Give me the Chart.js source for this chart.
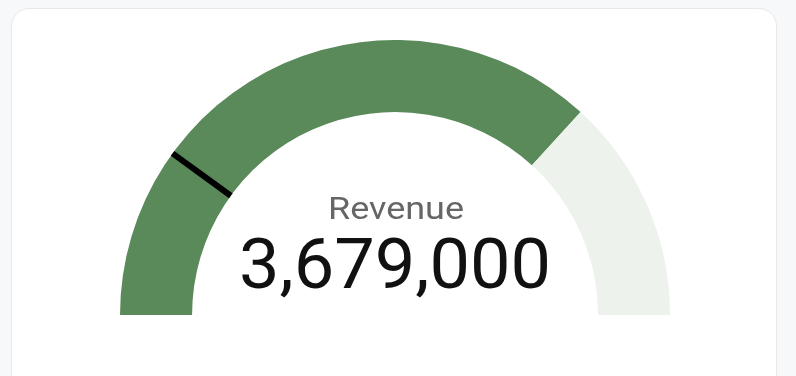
<!DOCTYPE html>
<html>
<head>
<meta charset="utf-8">
<script src="https://cdn.jsdelivr.net/npm/chart.js@4/dist/chart.umd.min.js"></script>
<style>
  html, body { margin: 0; padding: 0; }
  body { width: 796px; height: 376px; background: #f7f8fa; position: relative; overflow: hidden; font-family: Roboto, "Noto Sans", sans-serif; }
  .card { position: absolute; left: 11px; top: 8px; width: 766px; height: 420px; background: #fff; border: 1px solid #e8e8e8; border-radius: 18px; box-sizing: border-box; }
  .wrap { position: absolute; left: 120px; top: 40px; width: 550px; height: 275px; }
</style>
</head>
<body>
<div class="card"></div>
<div class="wrap"><canvas id="gauge"></canvas></div>
<script>
var label = 'Revenue';
var actual = 3679000;
var target = 5000000;
var marker = 1000000;
var colors = ['#5a895a', '#edf2ec'];

function stretchedText(ctx, txt, x, y, sx) {
  ctx.save();
  ctx.translate(x, y);
  ctx.scale(sx, 1);
  ctx.fillText(txt, 0, 0);
  ctx.restore();
}

var markerPlugin = {
  id: 'markerLine',
  afterDatasetsDraw: function (chart) {
    var arc = chart.getDatasetMeta(0).data[0];
    if (!arc) return;
    var p = arc.getProps(['x', 'y', 'innerRadius', 'outerRadius']);
    var ang = Math.PI + Math.PI * (marker / target);
    var ctx = chart.ctx;
    ctx.save();
    ctx.strokeStyle = '#000';
    ctx.lineWidth = 6;
    ctx.beginPath();
    ctx.moveTo(p.x + Math.cos(ang) * p.innerRadius, p.y + Math.sin(ang) * p.innerRadius);
    ctx.lineTo(p.x + Math.cos(ang) * p.outerRadius, p.y + Math.sin(ang) * p.outerRadius);
    ctx.stroke();
    // centre texts
    ctx.textAlign = 'center';
    ctx.textBaseline = 'alphabetic';
    ctx.fillStyle = '#666';
    ctx.font = '31px Roboto';
    stretchedText(ctx, label, p.x + 1, p.y - 96, 1.16);
    ctx.fillStyle = '#111';
    ctx.font = '70px Roboto';
    stretchedText(ctx, actual.toLocaleString('en-US'), p.x, p.y - 27, 1.03);
    ctx.restore();
  }
};

new Chart(document.getElementById('gauge'), {
  type: 'doughnut',
  data: {
    labels: ['Actual', 'Remaining'],
    datasets: [{
      data: [actual, target - actual],
      backgroundColor: colors,
      borderWidth: 0
    }]
  },
  options: {
    responsive: true,
    maintainAspectRatio: false,
    animation: false,
    rotation: -90,
    circumference: 180,
    cutout: '73.8%',
    layout: { padding: 0 },
    plugins: { legend: { display: false }, tooltip: { enabled: false } }
  },
  plugins: [markerPlugin]
});
</script>
</body>
</html>
